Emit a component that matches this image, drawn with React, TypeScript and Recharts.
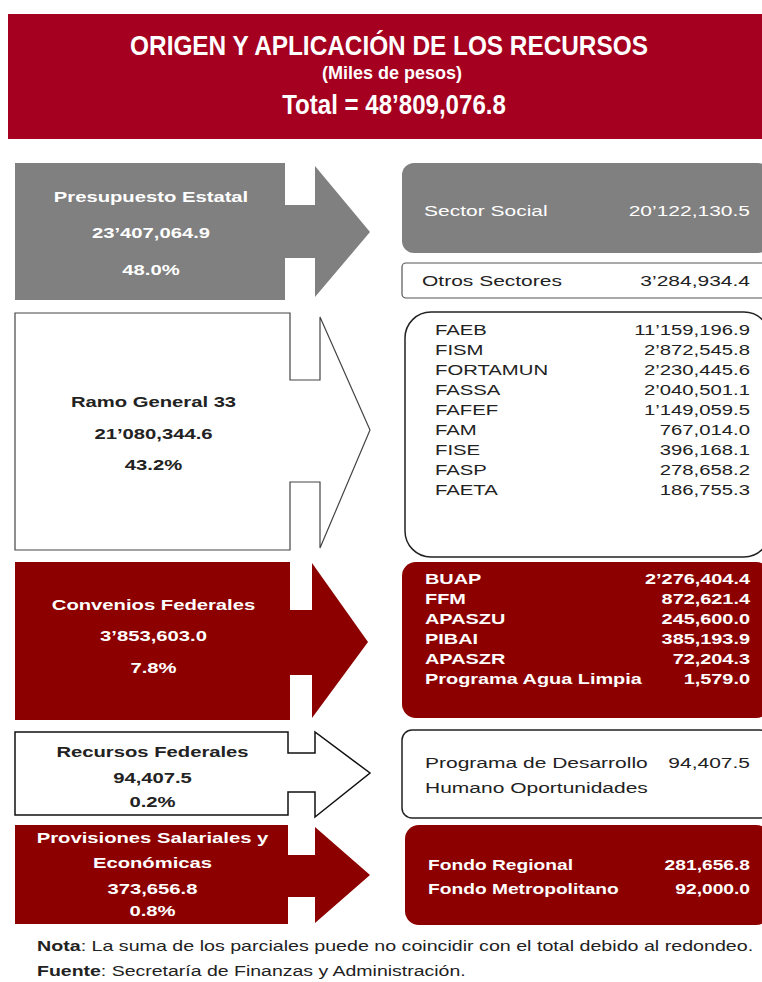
import React from "react";
import { ComposedChart, XAxis, YAxis, ReferenceArea } from "recharts";

const CHART_W = 762;
const CHART_H = 982;

// ---------------- data ----------------
const titleText = "ORIGEN Y APLICACIÓN DE LOS RECURSOS";
const unitText = "(Miles de pesos)";
const totalLabel = "Total = ";
const totalValue = 48809076.8;

const sourceNames = [
  "Presupuesto Estatal",
  "Ramo General 33",
  "Convenios Federales",
  "Recursos Federales",
  "Provisiones Salariales y\nEconómicas",
];
const sourceValues = [23407064.9, 21080344.6, 3853603.0, 94407.5, 373656.8];
const sourceShares = [48.0, 43.2, 7.8, 0.2, 0.8];

const socialNames = ["Sector Social"];
const socialValues = [20122130.5];
const otrosNames = ["Otros Sectores"];
const otrosValues = [3284934.4];
const ramo33Names = ["FAEB", "FISM", "FORTAMUN", "FASSA", "FAFEF", "FAM", "FISE", "FASP", "FAETA"];
const ramo33Values = [11159196.9, 2872545.8, 2230445.6, 2040501.1, 1149059.5, 767014.0, 396168.1, 278658.2, 186755.3];
const conveniosNames = ["BUAP", "FFM", "APASZU", "PIBAI", "APASZR", "Programa Agua Limpia"];
const conveniosValues = [2276404.4, 872621.4, 245600.0, 385193.9, 72204.3, 1579.0];
const oportunidadesNames = ["Programa de Desarrollo\nHumano Oportunidades"];
const oportunidadesValues = [94407.5];
const provisionesNames = ["Fondo Regional", "Fondo Metropolitano"];
const provisionesValues = [281656.8, 92000.0];

const noteLabel = "Nota";
const noteText = ": La suma de los parciales puede no coincidir con el total debido al redondeo.";
const fuenteLabel = "Fuente";
const fuenteText = ": Secretaría de Finanzas y Administración.";

// ---------------- styles / layout ----------------
const FONT = "'Liberation Sans', Arial, sans-serif";
const RED_TITLE = "#a5001f";
const DARK = "#8c0000";
const GRAY = "#808080";

function fmt(n: number, sep = "’") {
  const [ip, dp] = n.toFixed(1).split(".");
  const groups: string[] = [];
  for (let k = ip.length; k > 0; k -= 3) groups.unshift(ip.slice(Math.max(0, k - 3), k));
  let s = groups[groups.length - 1];
  for (let g = groups.length - 2; g >= 0; g--) {
    const pos = groups.length - 1 - g;
    s = groups[g] + (pos === 2 ? sep : ",") + s;
  }
  return s + "." + dp;
}

type ArrowSpec = {
  y1: number; y2: number; box: number; head: number; sT: number; sB: number;
  hT: number; hB: number; tip: number; tipY: number;
  fill: string; stroke: string; sw: number; color: string; textY: number[];
};

const LEFT_X = 15;
const leftLayout: ArrowSpec[] = [
  { y1: 163, y2: 300, box: 285, head: 315, sT: 205, sB: 258, hT: 166, hB: 297, tip: 370, tipY: 232, fill: GRAY, stroke: "none", sw: 0, color: "#ffffff", textY: [197, 233, 270] },
  { y1: 313, y2: 550, box: 290, head: 320, sT: 380, sB: 482, hT: 317, hB: 548, tip: 370, tipY: 430, fill: "#ffffff", stroke: "#444", sw: 1.2, color: "#222", textY: [402, 434, 465] },
  { y1: 562, y2: 720, box: 290, head: 312, sT: 610, sB: 675, hT: 563, hB: 718, tip: 368, tipY: 642, fill: DARK, stroke: "none", sw: 0, color: "#ffffff", textY: [605, 636, 668] },
  { y1: 732, y2: 815, box: 288, head: 315, sT: 753, sB: 792, hT: 732, hB: 817, tip: 370, tipY: 773, fill: "#ffffff", stroke: "#111", sw: 1.5, color: "#222", textY: [752, 778, 802] },
  { y1: 825, y2: 924, box: 288, head: 315, sT: 855, sB: 897, hT: 827, hB: 923, tip: 370, tipY: 875, fill: DARK, stroke: "none", sw: 0, color: "#ffffff", textY: [838, 863, 889, 911] },
];

type BoxSpec = {
  x1: number; y1: number; y2: number; rx: number; fill: string; stroke: string; sw: number;
  color: string; bold: boolean; size: number; sx: number; labelX: number; valueX: number;
  rowY0: number; rowStep: number; lineStep: number;
};
const RIGHT_X2 = 770;
const rightLayout: BoxSpec[] = [
  { x1: 402, y1: 163, y2: 253, rx: 12, fill: GRAY, stroke: "none", sw: 0, color: "#ffffff", bold: false, size: 15, sx: 1.4, labelX: 424, valueX: 750, rowY0: 211, rowStep: 20, lineStep: 25 },
  { x1: 402, y1: 263, y2: 298, rx: 4, fill: "#ffffff", stroke: "#555", sw: 1.2, color: "#222", bold: false, size: 15, sx: 1.4, labelX: 422, valueX: 750, rowY0: 281, rowStep: 20, lineStep: 25 },
  { x1: 405, y1: 312, y2: 557, rx: 26, fill: "#ffffff", stroke: "#222", sw: 1.5, color: "#222", bold: false, size: 14, sx: 1.45, labelX: 435, valueX: 750, rowY0: 330, rowStep: 20, lineStep: 20 },
  { x1: 402, y1: 562, y2: 718, rx: 14, fill: DARK, stroke: "none", sw: 0, color: "#ffffff", bold: true, size: 14, sx: 1.42, labelX: 425, valueX: 750, rowY0: 579, rowStep: 20, lineStep: 20 },
  { x1: 402, y1: 730, y2: 818, rx: 10, fill: "#ffffff", stroke: "#222", sw: 1.5, color: "#222", bold: false, size: 15, sx: 1.4, labelX: 425, valueX: 750, rowY0: 763, rowStep: 25, lineStep: 25 },
  { x1: 405, y1: 825, y2: 925, rx: 14, fill: DARK, stroke: "none", sw: 0, color: "#ffffff", bold: true, size: 15, sx: 1.28, labelX: 428, valueX: 750, rowY0: 865, rowStep: 24, lineStep: 24 },
];
const rightData = [
  { names: socialNames, values: socialValues },
  { names: otrosNames, values: otrosValues },
  { names: ramo33Names, values: ramo33Values },
  { names: conveniosNames, values: conveniosValues },
  { names: oportunidadesNames, values: oportunidadesValues },
  { names: provisionesNames, values: provisionesValues },
];

// maps domain units inside a reference area to pixels
function mapper(p: any, x1: number, x2: number, y1: number, y2: number) {
  const mx = (u: number) => p.x + ((u - x1) * p.width) / (x2 - x1);
  const my = (v: number) => p.y + ((v - y1) * p.height) / (y2 - y1);
  return { mx, my };
}

function Txt(props: {
  x: number; y: number; text: React.ReactNode; size: number; sx: number;
  anchor?: "start" | "middle" | "end"; bold?: boolean; fill: string;
}) {
  const { x, y, text, size, sx, anchor = "start", bold = false, fill } = props;
  return (
    <text
      transform={`translate(${x},${y}) scale(${sx},1)`}
      x={0}
      y={0}
      textAnchor={anchor}
      dominantBaseline="central"
      fontSize={size}
      fontWeight={bold ? "bold" : "normal"}
      fontFamily={FONT}
      fill={fill}
    >
      {text}
    </text>
  );
}

function TitleShape(p: any) {
  const x1 = 8, x2 = CHART_W, y1 = 14, y2 = 139;
  const { mx, my } = mapper(p, x1, x2, y1, y2);
  return (
    <g>
      <rect x={p.x} y={p.y} width={p.width} height={p.height} fill={RED_TITLE} />
      <Txt x={mx(389)} y={my(45)} text={titleText} size={28} sx={0.87} anchor="middle" bold fill="#ffffff" />
      <Txt x={mx(392)} y={my(73)} text={unitText} size={18} sx={1.0} anchor="middle" bold fill="#ffffff" />
      <Txt x={mx(394)} y={my(104)} text={totalLabel + fmt(totalValue)} size={28} sx={0.86} anchor="middle" bold fill="#ffffff" />
    </g>
  );
}

function ArrowShape(p: any) {
  const s: ArrowSpec = p.spec;
  const i: number = p.idx;
  const ay1 = Math.min(s.y1, s.hT), ay2 = Math.max(s.y2, s.hB);
  const { mx, my } = mapper(p, LEFT_X, s.tip, ay1, ay2);
  const d = [
    `M${mx(LEFT_X)},${my(s.y1)}`,
    `H${mx(s.box)}`,
    `V${my(s.sT)}`,
    `H${mx(s.head)}`,
    `V${my(s.hT)}`,
    `L${mx(s.tip)},${my(s.tipY)}`,
    `L${mx(s.head)},${my(s.hB)}`,
    `V${my(s.sB)}`,
    `H${mx(s.box)}`,
    `V${my(s.y2)}`,
    `H${mx(LEFT_X)}`,
    "Z",
  ].join(" ");
  const lines = [...sourceNames[i].split("\n"), fmt(sourceValues[i]), sourceShares[i].toFixed(1) + "%"];
  const cx = mx((LEFT_X + s.box) / 2 + 1);
  return (
    <g>
      <path d={d} fill={s.fill} stroke={s.stroke} strokeWidth={s.sw} />
      {lines.map((t, k) => (
        <Txt key={k} x={cx} y={my(s.textY[k])} text={t} size={15} sx={1.35} anchor="middle" bold fill={s.color} />
      ))}
    </g>
  );
}

function BoxShape(p: any) {
  const s: BoxSpec = p.spec;
  const data = rightData[p.idx];
  const { mx, my } = mapper(p, s.x1, RIGHT_X2, s.y1, s.y2);
  let rowY = s.rowY0;
  const items: React.ReactNode[] = [];
  data.names.forEach((name, k) => {
    const parts = name.split("\n");
    parts.forEach((part, j) => {
      items.push(
        <Txt key={`n${k}-${j}`} x={mx(s.labelX)} y={my(rowY + j * s.lineStep)} text={part} size={s.size} sx={s.sx} bold={s.bold} fill={s.color} />
      );
    });
    items.push(
      <Txt key={`v${k}`} x={mx(s.valueX)} y={my(rowY)} text={fmt(data.values[k])} size={s.size} sx={s.sx} anchor="end" bold={s.bold} fill={s.color} />
    );
    rowY += s.rowStep + (parts.length - 1) * s.lineStep;
  });
  return (
    <g>
      <rect x={p.x} y={p.y} width={p.width} height={p.height} rx={s.rx} ry={s.rx} fill={s.fill} stroke={s.stroke} strokeWidth={s.sw} />
      {items}
    </g>
  );
}

function FooterShape(p: any) {
  const { mx, my } = mapper(p, 37, CHART_W, 932, CHART_H);
  const common = { fontFamily: FONT, fontSize: 15, fill: "#222" };
  return (
    <g>
      <text transform={`translate(${mx(37)},${my(946)}) scale(1.31,1)`} dominantBaseline="central" {...common}>
        <tspan fontWeight="bold">{noteLabel}</tspan>
        <tspan>{noteText}</tspan>
      </text>
      <text transform={`translate(${mx(37)},${my(971)}) scale(1.3,1)`} dominantBaseline="central" {...common}>
        <tspan fontWeight="bold">{fuenteLabel}</tspan>
        <tspan>{fuenteText}</tspan>
      </text>
    </g>
  );
}

const frame = [{ x: 0, y: 0 }, { x: CHART_W, y: CHART_H }];

export default function App() {
  return (
    <div style={{ position: "absolute", left: 0, top: 0, width: CHART_W, height: CHART_H, background: "#ffffff", overflow: "hidden" }}>
      <ComposedChart width={CHART_W} height={CHART_H} data={frame} margin={{ top: 0, right: 0, bottom: 0, left: 0 }}>
        <XAxis dataKey="x" type="number" domain={[0, CHART_W]} hide allowDataOverflow />
        <YAxis dataKey="y" type="number" domain={[0, CHART_H]} hide reversed allowDataOverflow />
        <ReferenceArea x1={8} x2={CHART_W} y1={14} y2={139} ifOverflow="visible" shape={(p: any) => <TitleShape {...p} />} />
        {leftLayout.map((s, i) => (
          <ReferenceArea
            key={`l${i}`}
            x1={LEFT_X}
            x2={s.tip}
            y1={Math.min(s.y1, s.hT)}
            y2={Math.max(s.y2, s.hB)}
            ifOverflow="visible"
            shape={(p: any) => <ArrowShape {...p} spec={s} idx={i} />}
          />
        ))}
        {rightLayout.map((s, i) => (
          <ReferenceArea
            key={`r${i}`}
            x1={s.x1}
            x2={RIGHT_X2}
            y1={s.y1}
            y2={s.y2}
            ifOverflow="visible"
            shape={(p: any) => <BoxShape {...p} spec={s} idx={i} />}
          />
        ))}
        <ReferenceArea x1={37} x2={CHART_W} y1={932} y2={CHART_H} ifOverflow="visible" shape={(p: any) => <FooterShape {...p} />} />
      </ComposedChart>
    </div>
  );
}
